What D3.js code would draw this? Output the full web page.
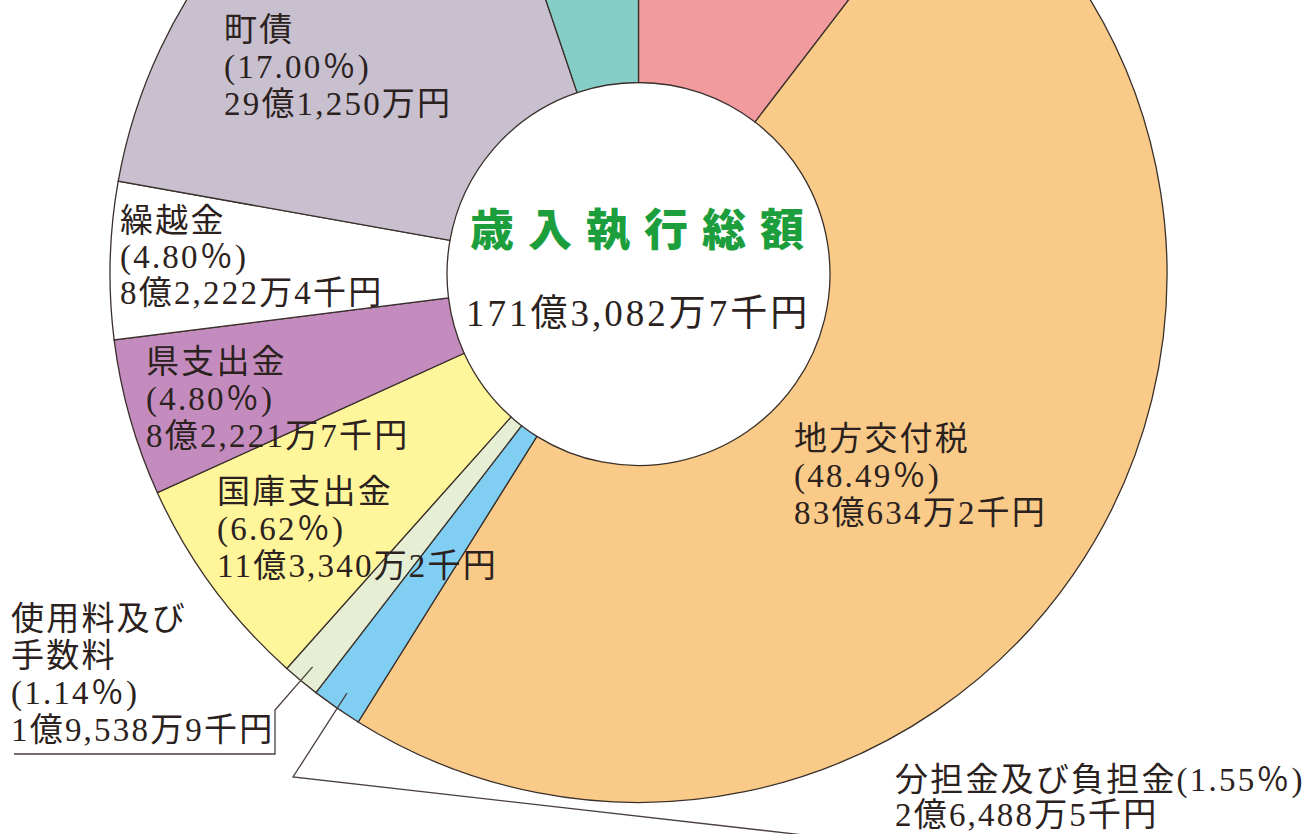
<!DOCTYPE html>
<html lang="ja">
<head>
    <meta charset="UTF-8">
    <title>歳入執行総額</title>
    <script src="https://d3js.org/d3.v7.min.js"></script>
    <style>
        body {
            margin: 0;
            background: #fff;
        }
        .label {
            font-family: "Liberation Serif", "Noto Sans CJK JP", serif;
            font-size: 33px;
            fill: #2b2220;
            letter-spacing: 2.2px;
        }
        .slice {
            stroke: #3a302b;
            stroke-width: 1.3;
        }
        .leader {
            fill: none;
            stroke: #4a403c;
            stroke-width: 1.3;
        }
    </style>
</head>
<body>
<svg id="chart" width="1314" height="834"></svg>

<script>
    // 項目（時計回り、12時の位置から）。先頭と末尾の2項目は見出しが画面外
    const categories = ["町税", "地方交付税", "分担金及び負担金", "使用料及び手数料",
        "国庫支出金", "県支出金", "繰越金", "町債", "その他"];
    const percents = [10.41, 48.49, 1.55, 1.14, 6.62, 4.80, 4.80, 17.00, 5.19];
    const amounts = ["", "83億634万2千円", "2億6,488万5千円", "1億9,538万9千円",
        "11億3,340万2千円", "8億2,221万7千円", "8億2,222万4千円", "29億1,250万円", ""];
    const colors = ["#f29b9e", "#facb88", "#80cff3", "#e6efd3",
        "#fff59a", "#c48cbe", "#ffffff", "#c8c0cf", "#86ccc7"];

    const totalTitle = "歳入執行総額";
    const totalAmount = "171億3,082万7千円";

    const width = 1314;
    const height = 834;
    const cx = 638.5, cy = 274;
    const outerR = 528.5, innerR = 191.5;

    // ラベル配置（画像上の位置）
    const layout = {
        "町債":           { x: 224, y: 41,  lh: 37, name: ["町債"] },
        "繰越金":         { x: 120, y: 232, lh: 36, name: ["繰越金"] },
        "県支出金":       { x: 146, y: 373, lh: 37, name: ["県支出金"] },
        "国庫支出金":     { x: 217, y: 503, lh: 37, name: ["国庫支出金"] },
        "地方交付税":     { x: 794, y: 450, lh: 37, name: ["地方交付税"] },
        "使用料及び手数料": { x: 11, y: 630, lh: 37, name: ["使用料及び", "手数料"],
            leader: [[275, 710], [275, 754], [14, 754]] },
        "分担金及び負担金": { x: 895, y: 791, lh: 35, name: ["分担金及び負担金"], inline: true,
            leader: [[293, 777], [830, 838]] }
    };

    const data = categories.map((c, i) => ({
        name: c, pct: percents[i], amount: amounts[i], color: colors[i]
    }));

    const svg = d3.select("#chart")
        .attr("width", width)
        .attr("height", height);

    const pie = d3.pie()
        .sort(null)
        .value(d => d.pct)
        .startAngle(0)
        .endAngle(2 * Math.PI);

    const arc = d3.arc()
        .innerRadius(innerR)
        .outerRadius(outerR);

    const g = svg.append("g")
        .attr("transform", `translate(${cx},${cy})`);

    const arcs = pie(data);

    g.selectAll(".slice")
        .data(arcs)
        .enter()
        .append("path")
        .attr("class", "slice")
        .attr("d", arc)
        .attr("fill", d => d.data.color);

    // 引き出し線
    const pointAt = (angle, r) => [cx + r * Math.sin(angle), cy - r * Math.cos(angle)];

    arcs.forEach(a => {
        const lay = layout[a.data.name];
        if (!lay || !lay.leader) return;
        const mid = (a.startAngle + a.endAngle) / 2;
        const pts = [pointAt(mid, outerR - 18)].concat(lay.leader);
        svg.append("path")
            .attr("class", "leader")
            .attr("d", d3.line()(pts));
    });

    // ラベル
    arcs.forEach(a => {
        const lay = layout[a.data.name];
        if (!lay) return;
        const pctText = "(" + a.data.pct.toFixed(2) + "％)";
        let lines;
        if (lay.inline) {
            lines = [lay.name[0] + pctText, a.data.amount];
        } else {
            lines = lay.name.concat([pctText, a.data.amount]);
        }
        const t = svg.append("text")
            .attr("class", "label")
            .attr("x", lay.x)
            .attr("y", lay.y);
        lines.forEach((line, i) => {
            t.append("tspan")
                .attr("x", lay.x)
                .attr("y", lay.y + i * lay.lh)
                .text(line);
        });
    });

    // 中央
    svg.append("text")
        .attr("x", 470)
        .attr("y", 246)
        .style("font-family", "'Noto Sans CJK JP', sans-serif")
        .style("font-weight", "900")
        .style("font-size", "44px")
        .style("letter-spacing", "14px")
        .attr("fill", "#1c9e3d")
        .text(totalTitle);

    svg.append("text")
        .attr("x", 466)
        .attr("y", 326)
        .attr("class", "label")
        .style("font-size", "37px")
        .style("letter-spacing", "3px")
        .text(totalAmount);
</script>
</body>
</html>
